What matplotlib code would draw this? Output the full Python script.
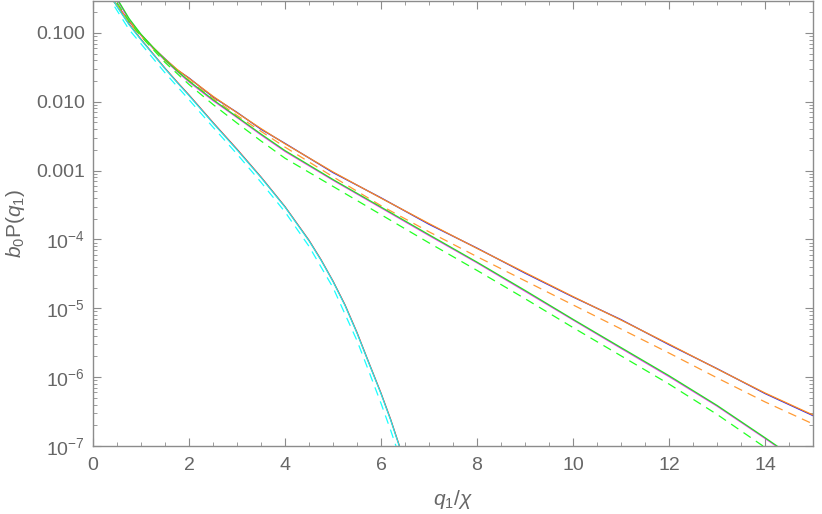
import math
import matplotlib
matplotlib.use("Agg")
import matplotlib.pyplot as plt
from matplotlib.ticker import FixedLocator, MultipleLocator, LogLocator, FuncFormatter, NullFormatter

# values (x = q1/chi, y = b0 P(q1))
q_upper = [0.35, 0.5, 0.75, 1, 1.25, 1.5, 1.75, 2, 2.5, 3, 3.5, 4, 5, 6, 7, 8, 9, 10, 11, 12, 13, 14, 15]
p_upper = [0.331, 0.251, 0.148, 0.0933, 0.0617, 0.0417, 0.0295, 0.0219, 0.0120, 0.00692, 0.00407,
           0.00245, 9.55e-4, 3.98e-4, 1.70e-4, 7.41e-5, 3.31e-5, 1.48e-5, 6.76e-6, 3.02e-6,
           1.32e-6, 5.89e-7, 2.82e-7]
p_upper_sim = [0.331, 0.255, 0.146, 0.0940, 0.0608, 0.0420, 0.0290, 0.0221, 0.0117, 0.00700, 0.00398,
               0.00248, 9.35e-4, 4.02e-4, 1.66e-4, 7.48e-5, 3.24e-5, 1.46e-5, 6.85e-6, 2.96e-6,
               1.33e-6, 5.78e-7, 2.76e-7]

q_upper_asym = [0.45, 0.75, 1, 1.5, 2, 2.5, 3, 4, 5, 6, 7, 8, 9, 10, 11, 12, 13, 14, 15]
p_upper_asym = [0.282, 0.141, 0.0891, 0.0398, 0.0204, 0.0112, 0.00631, 0.00219, 8.13e-4, 3.09e-4,
                1.29e-4, 5.62e-5, 2.51e-5, 1.12e-5, 5.01e-6, 2.24e-6, 9.77e-7, 4.37e-7, 2.09e-7]

q_mid = [0.5, 0.75, 1, 1.25, 1.5, 1.75, 2, 2.5, 3, 3.5, 4, 5, 6, 7, 8, 9, 10, 11, 12, 13, 14, 14.5]
p_mid = [0.316, 0.162, 0.0955, 0.0617, 0.0407, 0.0282, 0.0200, 0.0107, 0.00603, 0.00339, 0.00195,
         7.41e-4, 2.95e-4, 1.17e-4, 4.68e-5, 1.82e-5, 6.92e-6, 2.69e-6, 1.05e-6, 3.89e-7, 1.32e-7,
         7.59e-8]
p_mid_sim = [0.305, 0.155, 0.0925, 0.0600, 0.0398, 0.0276, 0.0194, 0.0104, 0.00590, 0.00330, 0.00190,
             7.25e-4, 2.88e-4, 1.14e-4, 4.58e-5, 1.77e-5, 6.78e-6, 2.62e-6, 1.02e-6, 3.80e-7,
             1.29e-7, 7.40e-8]

q_mid_asym = [0.5, 0.75, 1, 1.5, 2, 2.5, 3, 3.5, 4, 5, 6, 7, 8, 9, 10, 11, 12, 13, 14]
p_mid_asym = [0.275, 0.148, 0.0891, 0.0372, 0.0178, 0.00912, 0.00490, 0.00269, 0.00151, 5.89e-4,
              2.29e-4, 8.91e-5, 3.55e-5, 1.38e-5, 5.25e-6, 2.04e-6, 7.94e-7, 2.88e-7, 9.55e-8]

q_low = [0.4, 0.5, 0.75, 1, 1.25, 1.5, 1.75, 2, 2.5, 3, 3.5, 4, 4.5, 4.75, 5, 5.25, 5.5, 5.75,
         6, 6.2, 6.4, 6.5]
p_low = [0.316, 0.240, 0.132, 0.0794, 0.0490, 0.0302, 0.0191, 0.0123, 0.00490, 0.00200, 7.94e-4,
         2.95e-4, 9.55e-5, 5.01e-5, 2.45e-5, 1.10e-5, 4.37e-6, 1.58e-6, 5.75e-7, 2.40e-7,
         9.12e-8, 5.62e-8]
p_low_sim = [0.316, 0.245, 0.134, 0.0805, 0.0496, 0.0306, 0.0194, 0.0125, 0.00498, 0.00204, 8.05e-4,
             2.99e-4, 9.70e-5, 5.08e-5, 2.48e-5, 1.12e-5, 4.44e-6, 1.60e-6, 5.85e-7, 2.44e-7,
             9.25e-8, 5.70e-8]

q_low_asym = [0.45, 0.75, 1, 1.5, 2, 2.5, 3, 3.5, 4, 4.5, 5, 5.5, 5.75, 6, 6.2, 6.4]
p_low_asym = [0.240, 0.112, 0.0692, 0.0263, 0.0107, 0.00427, 0.00174, 6.76e-4, 2.51e-4, 7.94e-5,
              2.00e-5, 3.39e-6, 1.20e-6, 4.17e-7, 1.70e-7, 6.61e-8]

plt.rcParams["font.family"] = ["Liberation Sans", "DejaVu Sans"]
plt.rcParams["mathtext.fontset"] = "custom"
plt.rcParams["mathtext.rm"] = "Liberation Sans"
plt.rcParams["mathtext.it"] = "Liberation Sans:italic"

grey = "#666666"
frame = "#8c8c8c"

fig = plt.figure(figsize=(8.22, 5.14), dpi=100)
ax = fig.add_axes([93 / 822, 68 / 514, 720 / 822, 445 / 514])

lw = 0.9
dash = (0, (7, 5))
# simulated (noisy) curves first, smooth curves on top
ax.plot(q_upper, p_upper_sim, color="#1a1aff", lw=lw)
ax.plot(q_mid, p_mid_sim, color="#ff1aff", lw=lw)
ax.plot(q_low, p_low_sim, color="#ff0000", lw=lw)

ax.plot(q_upper, p_upper, color="#ff8c1a", lw=lw)
ax.plot(q_upper_asym, p_upper_asym, color="#ff9a33", lw=lw, linestyle=dash)
ax.plot(q_mid, p_mid, color="#22e622", lw=lw)
ax.plot(q_mid_asym, p_mid_asym, color="#22ff22", lw=lw, linestyle=dash)
ax.plot(q_low, p_low, color="#1aeeee", lw=lw)
ax.plot(q_low_asym, p_low_asym, color="#1affff", lw=lw, linestyle=dash)

ax.set_yscale("log")
ax.set_xlim(0, 15)
ax.set_ylim(1e-7, 0.29)

ax.xaxis.set_major_locator(MultipleLocator(2))
ax.xaxis.set_minor_locator(MultipleLocator(0.5))
ax.yaxis.set_major_locator(FixedLocator([1e-7, 1e-6, 1e-5, 1e-4, 1e-3, 1e-2, 1e-1]))
ax.yaxis.set_minor_locator(LogLocator(base=10, subs=range(2, 10), numticks=20))
ax.yaxis.set_minor_formatter(NullFormatter())


def ylab(v, pos):
    if v >= 1e-3:
        return f"{v:.3f}"
    return r"$10^{%d}$" % int(round(math.log10(v)))


ax.yaxis.set_major_formatter(FuncFormatter(ylab))

for s in ax.spines.values():
    s.set_color(frame)
    s.set_linewidth(1.0)
ax.tick_params(which="both", direction="in", top=True, right=True, color=frame, labelcolor=grey,
               labelsize=14)
ax.tick_params(which="major", length=6, width=0.8)
ax.tick_params(which="minor", length=3, width=0.6)
ax.tick_params(axis="x", pad=8)
ax.tick_params(axis="y", pad=6)

ax.set_xlabel(r"$q_1/\chi$", fontsize=15, color=grey, labelpad=10)
ax.set_ylabel(r"$b_0\mathrm{P}(q_1)$", fontsize=15, color=grey, labelpad=6)

fig.savefig("out.png", dpi=100)
